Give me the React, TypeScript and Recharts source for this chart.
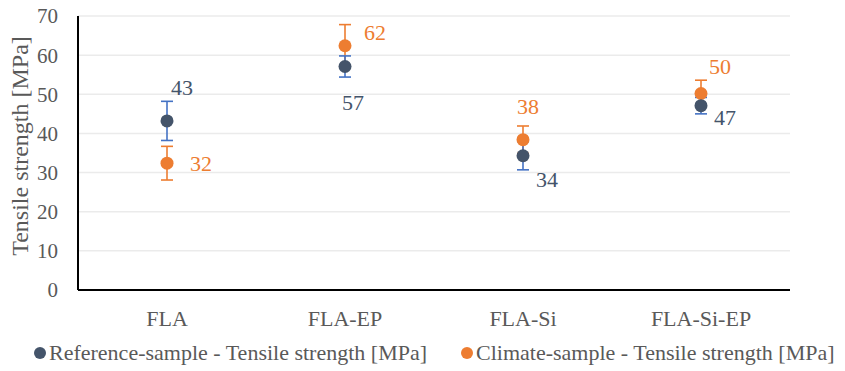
import { ComposedChart, Line, XAxis, YAxis, CartesianGrid, ErrorBar, LabelList, Legend, Label } from 'recharts'

const categories = ['FLA', 'FLA-EP', 'FLA-Si', 'FLA-Si-EP']
const referenceValues = [43.2, 57.1, 34.3, 47.1]
const referenceErrors = [5.0, 2.7, 3.6, 2.1]
const climateValues = [32.4, 62.4, 38.4, 50.2]
const climateErrors = [4.3, 5.4, 3.5, 3.4]
const yTicks = [0, 10, 20, 30, 40, 50, 60, 70]

const referenceName = 'Reference-sample - Tensile strength [MPa]'
const climateName = 'Climate-sample - Tensile strength [MPa]'

// label placement relative to each dot (text center)
const refLabelOffsets = [[15, -33], [8, 36], [24, 24], [24, 12]]
const climLabelOffsets = [[34, 0], [30, -13], [5, -33], [19, -27]]

const REF_COLOR = '#44546A'
const REF_ERR = '#4472C4'
const CLIM_COLOR = '#ED7D31'
const TEXT = '#595959'
const FONT = 'Liberation Serif, Tinos, Times New Roman, DejaVu Serif, serif'

const data = categories.map((name, i) => ({
	name,
	ref: referenceValues[i],
	refErr: referenceErrors[i],
	clim: climateValues[i],
	climErr: climateErrors[i],
}))

const makeLabel = (offsets: number[][], color: string) => (props: any) => {
	const { x, y, index, value } = props
	const [dx, dy] = offsets[index] || [0, 0]
	return (
		<text
			x={x + dx}
			y={y + dy}
			textAnchor="middle"
			dominantBaseline="central"
			fill={color}
			style={{ fontFamily: FONT, fontSize: 22 }}
		>
			{Math.round(value)}
		</text>
	)
}

const renderLegend = () => (
	<div style={{ position: 'relative', height: 24, fontFamily: FONT, fontSize: 22, color: TEXT, whiteSpace: 'nowrap' }}>
		<div style={{ position: 'absolute', left: 26, top: 0, display: 'flex', alignItems: 'center' }}>
			<span style={{ display: 'inline-block', width: 12, height: 12, borderRadius: 6, background: REF_COLOR, marginRight: 3 }} />
			{referenceName}
		</div>
		<div style={{ position: 'absolute', left: 453, top: 0, display: 'flex', alignItems: 'center' }}>
			<span style={{ display: 'inline-block', width: 12, height: 12, borderRadius: 6, background: CLIM_COLOR, marginRight: 3 }} />
			{climateName}
		</div>
	</div>
)

const YTitle = (props: any) => {
	const { viewBox } = props
	const cx = 12
	const cy = viewBox.y + viewBox.height / 2 - 7
	return (
		<text
			x={cx}
			y={cy}
			transform={`rotate(-90, ${cx}, ${cy})`}
			textAnchor="middle"
			dominantBaseline="central"
			fill={TEXT}
			style={{ fontFamily: FONT, fontSize: 24 }}
		>
			Tensile strength [MPa]
		</text>
	)
}

export default function App() {
	return (
		<div style={{ fontFamily: FONT, marginTop: -8 }}>
			<ComposedChart
				width={837}
				height={371}
				data={data}
				margin={{ top: 16, right: 55, bottom: 7, left: 0 }}
			>
				<CartesianGrid vertical={false} stroke="#EBEBEB" strokeWidth={1.5} />
				<XAxis
					dataKey="name"
					type="category"
					scale="band"
					axisLine={{ stroke: '#000', strokeWidth: 2 }}
					tickLine={false}
					tickMargin={20}
					tickSize={0}
					height={50}
					tick={{ fill: TEXT, fontSize: 22, fontFamily: FONT }}
				/>
				<YAxis
					domain={[0, 70]}
					ticks={yTicks}
					interval={0}
					width={70}
					axisLine={{ stroke: '#000', strokeWidth: 2 }}
					tickLine={false}
					tickSize={0}
					tickMargin={20}
					tick={{ fill: TEXT, fontSize: 21, fontFamily: FONT }}
				>
					<Label content={<YTitle />} />
				</YAxis>
				<Legend verticalAlign="bottom" content={renderLegend} />
				<Line
					name={climateName}
					dataKey="clim"
					stroke="none"
					isAnimationActive={false}
					dot={{ r: 6.5, fill: CLIM_COLOR, stroke: CLIM_COLOR, strokeWidth: 0 }}
					activeDot={false}
				>
					<ErrorBar dataKey="climErr" direction="y" width={6} stroke={CLIM_COLOR} strokeWidth={1.6} />
					<LabelList dataKey="clim" content={makeLabel(climLabelOffsets, CLIM_COLOR)} />
				</Line>
				<Line
					name={referenceName}
					dataKey="ref"
					stroke="none"
					isAnimationActive={false}
					dot={{ r: 6.5, fill: REF_COLOR, stroke: REF_COLOR, strokeWidth: 0 }}
					activeDot={false}
				>
					<ErrorBar dataKey="refErr" direction="y" width={6} stroke={REF_ERR} strokeWidth={1.6} />
					<LabelList dataKey="ref" content={makeLabel(refLabelOffsets, REF_COLOR)} />
				</Line>
			</ComposedChart>
		</div>
	)
}
